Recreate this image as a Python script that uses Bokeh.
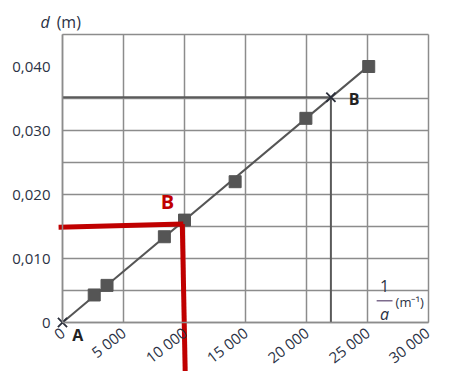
import math
from bokeh.plotting import figure
from bokeh.models import FixedTicker, Label, Arrow, Range1d
from bokeh.embed import file_html
from bokeh.resources import INLINE

# ---- data ----
x_ticks = [0, 5000, 10000, 15000, 20000, 25000, 30000]
x_tick_labels = ["0", "5 000", "10 000", "15 000", "20 000", "25 000", "30 000"]
y_ticks = [0, 0.010, 0.020, 0.030, 0.040]
y_tick_labels = ["0", "0,010", "0,020", "0,030", "0,040"]
x_grid = [0, 5000, 10000, 15000, 20000, 25000, 30000]
y_grid = [0, 0.005, 0.010, 0.015, 0.020, 0.025, 0.030, 0.035, 0.045]
x_max = 30000
y_max = 0.045

inv_a = [2600, 3650, 8350, 10000, 14150, 19950, 25100]
d_m = [0.0043, 0.0058, 0.0134, 0.0160, 0.0220, 0.0319, 0.0400]

fit_x = [0, 25100]
fit_y = [0, 0.0401]

A_x, A_y = [0], [0]
B_x, B_y = [22000], [0.0352]

# red reading lines
red_h_x = [-320, 9900]
red_h_y = [0.0149, 0.0154]
red_v_x = [9820, 10060]
red_v_y = [0.0154, -0.0080]

# ---- layout (pixels) ----
W, H = 433, 371
BOX_L, BOX_R, BOX_T, BOX_B = 62, 428, 34, 322
sx = (BOX_R - BOX_L) / x_max
sy = (BOX_B - BOX_T) / y_max
x_lo = -BOX_L / sx
x_hi = x_max + (W - BOX_R) / sx
y_lo = -(H - BOX_B) / sy
y_hi = y_max + BOX_T / sy

FONT = "Open Sans"
TXT = "#2b3245"
GRID = "#8c8c8c"
DARK = "#555555"
RED = "#c00000"

p = figure(width=W, height=H, output_backend="svg", toolbar_location=None,
           x_range=Range1d(x_lo, x_hi), y_range=Range1d(y_lo, y_hi),
           min_border=0)
p.background_fill_color = "white"
p.border_fill_color = "white"
p.outline_line_color = None

for ax, ticks, labels, bnd in ((p.xaxis[0], x_ticks, x_tick_labels, (0, x_max)),
                               (p.yaxis[0], y_ticks, y_tick_labels, (0, y_max))):
    ax.ticker = FixedTicker(ticks=ticks)
    ax.major_label_overrides = {t: l for t, l in zip(ticks, labels)}
    ax.fixed_location = 0
    ax.bounds = bnd
    ax.major_tick_line_color = None
    ax.minor_tick_line_color = None
    ax.axis_line_color = GRID
    ax.axis_line_width = 1.5
    ax.major_label_text_font = FONT
    ax.major_label_text_font_size = "15px"
    ax.major_label_text_color = TXT
p.xaxis.major_label_orientation = math.radians(38)
p.xaxis.major_label_standoff = 2
p.yaxis.major_label_standoff = 6

p.xgrid.ticker = FixedTicker(ticks=x_grid)
p.ygrid.ticker = FixedTicker(ticks=y_grid)
p.xgrid.bounds = (0, x_max)
p.xgrid.cross_bounds = (0, y_max)
p.ygrid.bounds = (0, y_max)
p.ygrid.cross_bounds = (0, x_max)
for g in (p.xgrid, p.ygrid):
    g.grid_line_color = GRID
    g.grid_line_width = 1.5

# B construction lines
p.segment(x0=[0, B_x[0]], y0=[B_y[0], 0], x1=[B_x[0], B_x[0]], y1=[B_y[0], B_y[0]],
          line_color="#5a5a5a", line_width=2)

# fit line and points
p.line(fit_x, fit_y, line_color=DARK, line_width=2)
p.scatter(inv_a, d_m, marker="square", size=12, fill_color=DARK, line_color=DARK)
p.scatter(A_x + B_x, A_y + B_y, marker="x", size=13, line_color="#2a2e3a", line_width=1.8)

# red reading lines
p.line(red_h_x, red_h_y, line_color=RED, line_width=5)
p.line(red_v_x, red_v_y, line_color=RED, line_width=5)

# labels
p.add_layout(Label(x=8600, y=0.0189, text="B", text_color=RED, text_font=FONT,
                   text_font_size="20px", text_font_style="bold",
                   text_align="center", text_baseline="middle"))
p.add_layout(Label(x=23900, y=0.0350, text="B", text_color="#222222", text_font=FONT,
                   text_font_size="16px", text_font_style="bold",
                   text_align="center", text_baseline="middle"))
p.add_layout(Label(x=1250, y=-0.0019, text="A", text_color="#222222", text_font=FONT,
                   text_font_size="16px", text_font_style="bold",
                   text_align="center", text_baseline="middle"))

# y axis title
p.add_layout(Label(x=-1046, y=0.0469, text="d", text_color=TXT, text_font=FONT,
                   text_font_size="16px", text_font_style="italic",
                   text_align="right", text_baseline="middle"))
p.add_layout(Label(x=-480, y=0.0469, text="(m)", text_color=TXT, text_font=FONT,
                   text_font_size="16px", text_align="left", text_baseline="middle"))

# x axis title: 1/a (m-1)
p.add_layout(Label(x=26400, y=0.0057, text="1", text_color=TXT, text_font=FONT,
                   text_font_size="16px", text_align="center", text_baseline="middle"))
p.add_layout(Arrow(end=None, start=None, x_start=25750, y_start=0.0034,
                   x_end=27050, y_end=0.0034, line_color="#7d6b8d", line_width=1.5))
p.add_layout(Label(x=26400, y=0.0013, text="a", text_color=TXT, text_font=FONT,
                   text_font_size="16px", text_font_style="italic",
                   text_align="center", text_baseline="middle"))
p.add_layout(Label(x=27300, y=0.0032, text="(m\u207b\u00b9)", text_color=TXT, text_font=FONT,
                   text_font_size="13px", text_align="left", text_baseline="middle"))

open("out.html", "w").write(file_html(p, INLINE))
